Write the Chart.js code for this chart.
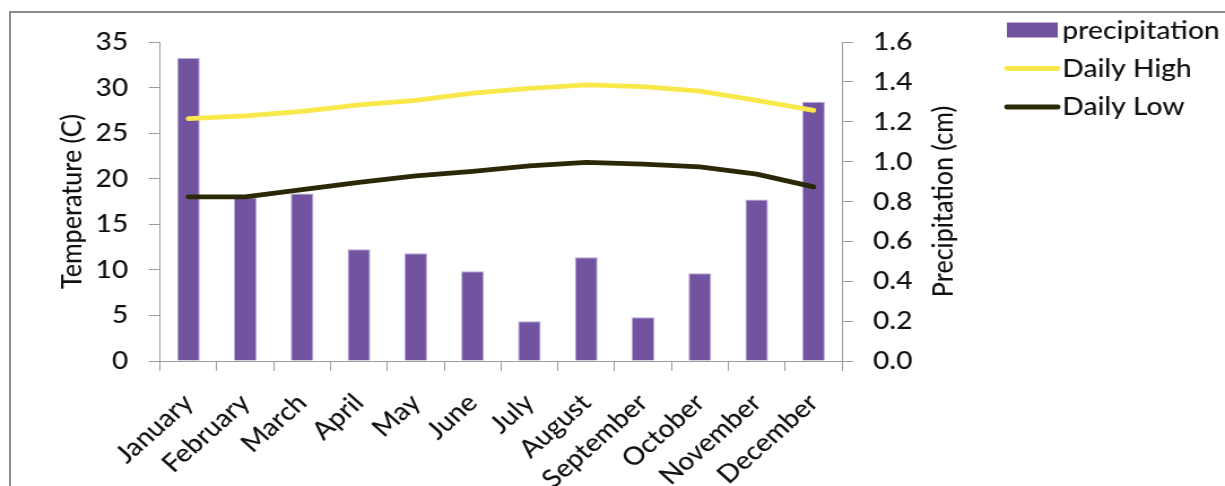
<!DOCTYPE html>
<html>
<head>
<meta charset="utf-8">
<script src="https://cdn.jsdelivr.net/npm/chart.js@4.4.1/dist/chart.umd.min.js"></script>
<style>
  html, body { margin: 0; padding: 0; background: #fff; overflow: hidden; width: 1225px; height: 486px; }
  #frame { position: absolute; left: 9px; top: 11px; width: 1400px; height: 700px; border: 2px solid #8a8a8a; box-sizing: border-box; }
  #c { position: absolute; left: 0; top: 0; }
</style>
</head>
<body>
<div id="frame"></div>
<!-- drawn on a narrower canvas and widened by CSS, giving the wide lettering of the chart -->
<canvas id="c" width="1084" height="486" style="width:1225px;height:486px"></canvas>
<script>
// Monthly climate data
const months = ['January', 'February', 'March', 'April', 'May', 'June',
                'July', 'August', 'September', 'October', 'November', 'December'];
const precipitation = [1.52, 0.82, 0.84, 0.56, 0.54, 0.45, 0.20, 0.52, 0.22, 0.44, 0.81, 1.30];
const dailyHigh = [26.6, 26.9, 27.4, 28.1, 28.6, 29.4, 29.9, 30.3, 30.1, 29.6, 28.6, 27.5];
const dailyLow  = [18.0, 18.0, 18.8, 19.6, 20.3, 20.8, 21.4, 21.8, 21.6, 21.3, 20.5, 19.1];

// Axis ranges
const tempMax = 35, tempStep = 5;
const precipMax = 1.6, precipStep = 0.2;

const FONT_FAMILY = 'Lato, "Open Sans", sans-serif';
const FONT_SIZE = 25;
const FONT_WEIGHT = 500;
const TEXT = '#111111';
const AXIS = '#9c9c9c';
const PURPLE = '#7153a0';
const YELLOW = '#f8e84a';
const DARK = '#2a2806';

const font = { family: FONT_FAMILY, size: FONT_SIZE, weight: FONT_WEIGHT };
const cssFont = FONT_WEIGHT + ' ' + FONT_SIZE + 'px ' + FONT_FAMILY;

// Right-hand axis title (reads bottom-to-top) and the legend block
const extras = {
  id: 'extras',
  afterDraw(chart) {
    const ctx = chart.ctx;
    const a = chart.chartArea;
    ctx.save();
    ctx.font = cssFont;
    ctx.fillStyle = TEXT;
    ctx.textAlign = 'center';
    ctx.textBaseline = 'middle';
    ctx.translate(834.5, (a.top + a.bottom) / 2);
    ctx.rotate(-Math.PI / 2);
    ctx.fillText('Precipitation (cm)', 0, 0);
    ctx.restore();

    const rows = [30.5, 68.5, 107];
    const ds = chart.data.datasets;
    ctx.save();
    ctx.font = cssFont;
    ctx.textAlign = 'left';
    ctx.textBaseline = 'middle';
    ds.forEach((d, i) => {
      const y = rows[i];
      if (d.type === 'bar') {
        ctx.fillStyle = d.backgroundColor;
        ctx.fillRect(891, y - 8, 45, 15);
      } else {
        ctx.strokeStyle = d.borderColor;
        ctx.lineWidth = 4.8;
        ctx.lineCap = 'round';
        ctx.beginPath();
        ctx.moveTo(891, y);
        ctx.lineTo(936, y);
        ctx.stroke();
      }
      ctx.fillStyle = TEXT;
      ctx.fillText(d.label, 940, y);
    });
    ctx.restore();
  }
};

function draw() {
  new Chart(document.getElementById('c'), {
    data: {
      labels: months,
      datasets: [
        {
          type: 'bar',
          label: 'precipitation',
          data: precipitation,
          yAxisID: 'y1',
          backgroundColor: PURPLE,
          borderColor: '#b9abd4',
          borderWidth: 1,
          barPercentage: 0.4,
          categoryPercentage: 1.0,
          order: 2
        },
        {
          type: 'line',
          label: 'Daily High',
          data: dailyHigh,
          yAxisID: 'y',
          borderColor: YELLOW,
          backgroundColor: YELLOW,
          borderWidth: 4.8,
          borderCapStyle: 'round',
          borderJoinStyle: 'round',
          pointRadius: 0,
          tension: 0,
          order: 1
        },
        {
          type: 'line',
          label: 'Daily Low',
          data: dailyLow,
          yAxisID: 'y',
          borderColor: DARK,
          backgroundColor: DARK,
          borderWidth: 4.8,
          borderCapStyle: 'round',
          borderJoinStyle: 'round',
          pointRadius: 0,
          tension: 0,
          order: 1
        }
      ]
    },
    options: {
      responsive: false,
      maintainAspectRatio: false,
      devicePixelRatio: 1,
      animation: false,
      layout: { padding: { top: 42, left: 0, right: 219, bottom: 0 } },
      plugins: { legend: { display: false }, tooltip: { enabled: false } },
      scales: {
        x: {
          type: 'category',
          offset: true,
          grid: { offset: true, drawOnChartArea: false, drawTicks: true, tickLength: 10, color: AXIS },
          border: { color: AXIS, width: 1 },
          ticks: { font, color: TEXT, minRotation: 45, maxRotation: 45, autoSkip: false, padding: 17 },
          afterFit: s => { s.height = 125; }
        },
        y: {
          position: 'left',
          min: 0, max: tempMax,
          grid: { drawOnChartArea: false, tickLength: 10, color: AXIS },
          border: { color: AXIS, width: 1 },
          ticks: { font, color: TEXT, stepSize: tempStep, padding: 18 },
          title: { display: true, text: 'Temperature (C)', font, color: TEXT, padding: { top: 49, bottom: 0 } },
          afterFit: s => { s.width = 141.6; }
        },
        y1: {
          position: 'right',
          min: 0, max: precipMax,
          grid: { drawOnChartArea: false, tickLength: 10, color: AXIS },
          border: { color: AXIS, width: 1 },
          ticks: { font, color: TEXT, stepSize: precipStep, padding: 17.5, callback: v => Number(v).toFixed(1) },
          afterFit: s => { s.width = 120; }
        }
      }
    },
    plugins: [extras]
  });
}

if (document.fonts && document.fonts.load) {
  document.fonts.load(cssFont).then(draw, draw);
} else {
  draw();
}
</script>
</body>
</html>
